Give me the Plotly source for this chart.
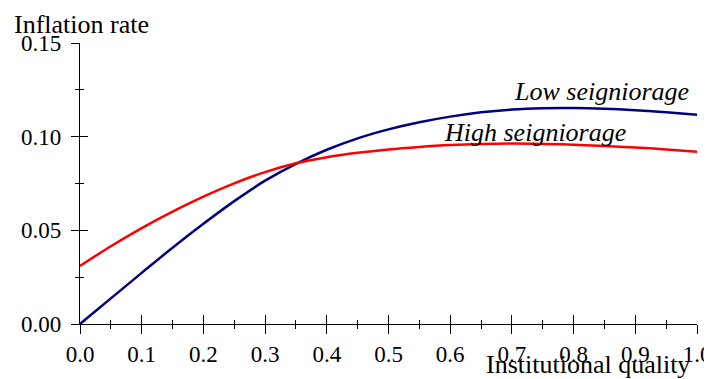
import plotly.graph_objects as go

quality = [0.0, 0.05, 0.1, 0.15, 0.2, 0.25, 0.3, 0.35, 0.4, 0.45, 0.5, 0.55, 0.6, 0.65, 0.7,
           0.75, 0.8, 0.85, 0.9, 0.95, 1.0]
low_seigniorage = [0.0, 0.0137, 0.0273, 0.0407, 0.0535, 0.0656, 0.0765, 0.0855, 0.0930, 0.0991,
                   0.1039, 0.1077, 0.1107, 0.1130, 0.1145, 0.1152, 0.1153, 0.1149, 0.1141,
                   0.1130, 0.1117]
high_seigniorage = [0.0310, 0.0415, 0.0512, 0.0600, 0.0680, 0.0751, 0.0811, 0.0858, 0.0890,
                    0.0914, 0.0932, 0.0945, 0.0955, 0.0961, 0.0963, 0.0961, 0.0957, 0.0950,
                    0.0942, 0.0932, 0.0920]

x_ticks = [0.0, 0.1, 0.2, 0.3, 0.4, 0.5, 0.6, 0.7, 0.8, 0.9, 1.0]
x_tick_labels = ["0.0", "0.1", "0.2", "0.3", "0.4", "0.5", "0.6", "0.7", "0.8", "0.9", "1.0"]
y_ticks = [0.0, 0.05, 0.10, 0.15]
y_tick_labels = ["0.00", "0.05", "0.10", "0.15"]

FONT = "Liberation Serif"
BLUE = "#000080"
RED = "#ff0000"

fig = go.Figure()
fig.add_trace(go.Scatter(x=quality, y=low_seigniorage, mode="lines",
                         line=dict(color=BLUE, width=2.5, shape="spline", smoothing=1.0),
                         showlegend=False, hoverinfo="skip"))
fig.add_trace(go.Scatter(x=quality, y=high_seigniorage, mode="lines",
                         line=dict(color=RED, width=2.5, shape="spline", smoothing=1.0),
                         showlegend=False, hoverinfo="skip"))
# empty trace to create overlay axes (inner half of crossing ticks)
fig.add_trace(go.Scatter(x=[], y=[], xaxis="x2", yaxis="y2", showlegend=False))

axis_common = dict(showgrid=False, zeroline=False, color="black", linecolor="black",
                   tickcolor="black", tickwidth=1.3, automargin=False)

# page body has an 8px default margin, so the figure is shrunk by 8px and margins shifted
fig.update_layout(
    width=704, height=371,
    margin=dict(l=72, r=15, t=35, b=55, autoexpand=False),
    paper_bgcolor="white", plot_bgcolor="white",
    font=dict(family=FONT, size=23, color="black"),
    xaxis=dict(range=[0, 1.0], tickvals=x_ticks, ticktext=x_tick_labels,
               ticks="outside", ticklen=9, showline=True, linewidth=1.3,
               minor=dict(ticks="outside", ticklen=4, dtick=0.05, tickcolor="black", tickwidth=1.3),
               tickfont=dict(family=FONT, size=23), ticklabelstandoff=0, **axis_common),
    yaxis=dict(range=[0, 0.15], tickvals=y_ticks, ticktext=y_tick_labels,
               ticks="outside", ticklen=8, showline=True, linewidth=1.3,
               minor=dict(ticks="outside", ticklen=4, dtick=0.025, tickcolor="black", tickwidth=1.3),
               tickfont=dict(family=FONT, size=23), ticklabelstandoff=5, **axis_common),
    xaxis2=dict(range=[0, 1.0], overlaying="x", anchor="y2", side="bottom",
                tickvals=x_ticks, showticklabels=False, ticks="inside", ticklen=9,
                minor=dict(ticks="inside", ticklen=4, dtick=0.05, tickcolor="black", tickwidth=1.3),
                showline=False, **axis_common),
    yaxis2=dict(range=[0, 0.15], overlaying="y", anchor="x2", side="left",
                tickvals=y_ticks, showticklabels=False, ticks="inside", ticklen=8,
                minor=dict(ticks="inside", ticklen=4, dtick=0.025, tickcolor="black", tickwidth=1.3),
                showline=False, **axis_common),
    annotations=[
        dict(text="<i>Low seigniorage</i>", x=0.846, y=0.124, xref="x", yref="y",
             showarrow=False, font=dict(family=FONT, size=26)),
        dict(text="<i>High seigniorage</i>", x=0.737, y=0.102, xref="x", yref="y",
             showarrow=False, font=dict(family=FONT, size=26)),
        dict(text="Institutional quality", x=0.992, y=(324 - 364) / 281, xref="x", yref="paper",
             xanchor="right", yanchor="middle", showarrow=False, font=dict(family=FONT, size=26)),
        dict(text="Inflation rate", x=(12 - 80) / 617, y=(324 - 24) / 281, xref="paper", yref="paper",
             xanchor="left", yanchor="middle", showarrow=False, font=dict(family=FONT, size=26)),
    ],
)

fig.write_html("out.html")
